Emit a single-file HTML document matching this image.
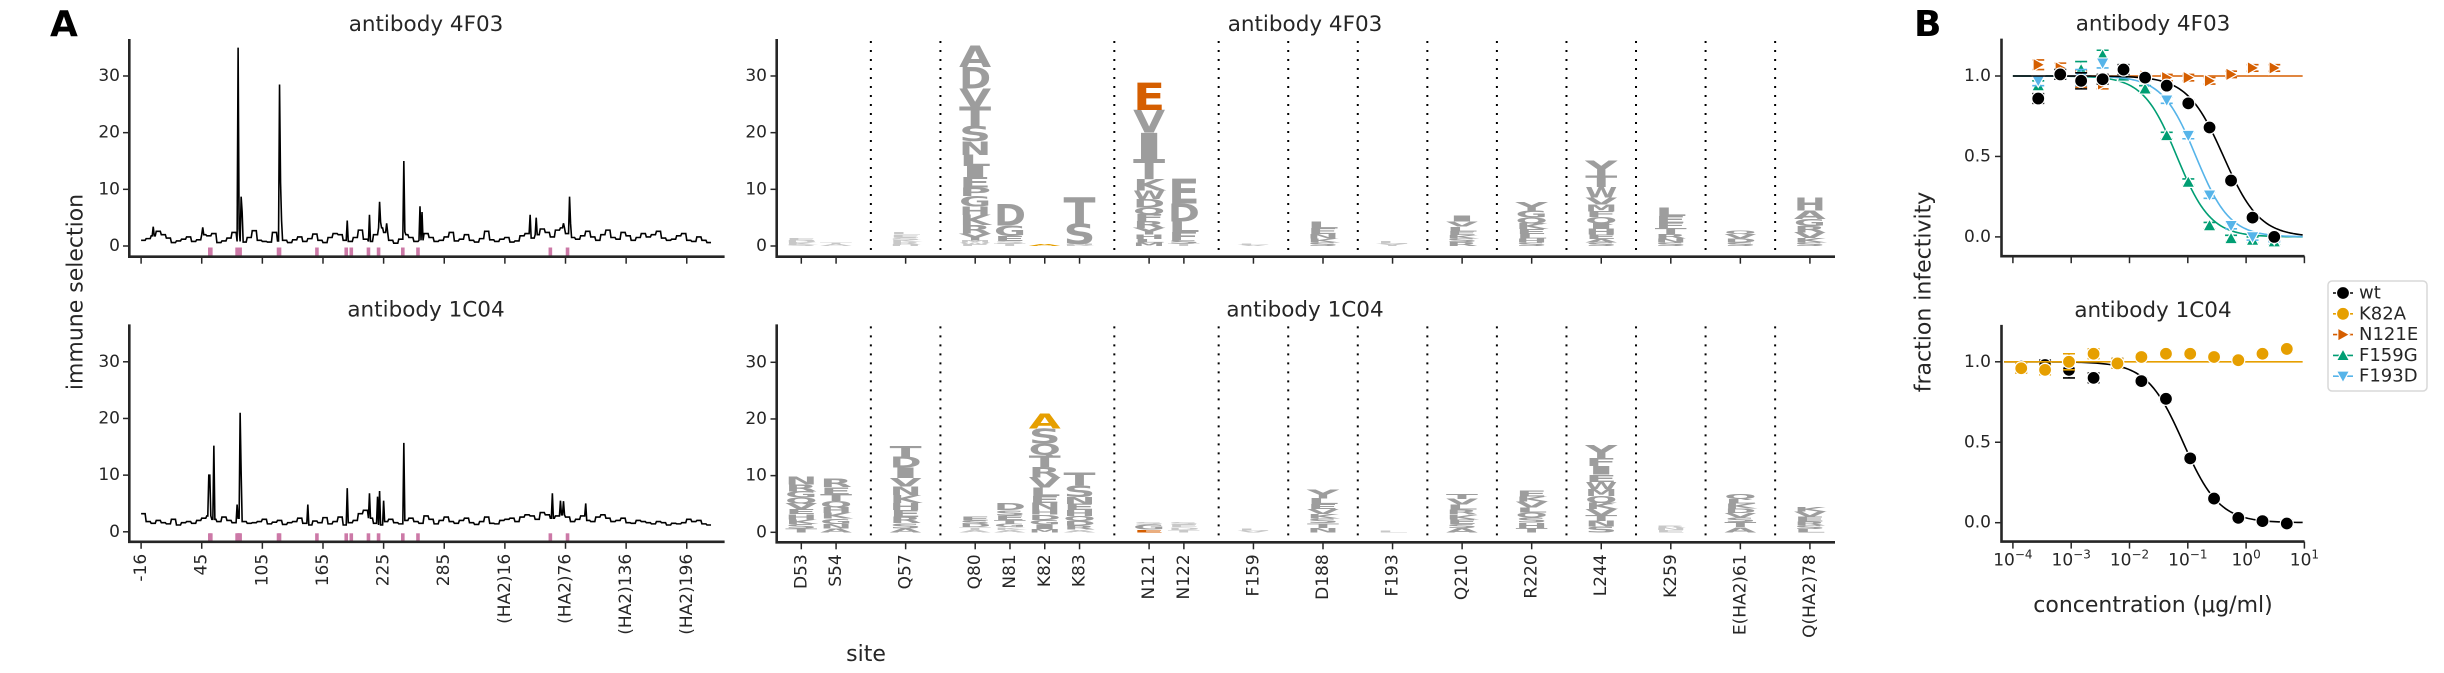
<!DOCTYPE html>
<html><head><meta charset="utf-8"><style>
html,body{margin:0;padding:0;background:#fff;}
svg{display:block;font-family:"DejaVu Sans","Liberation Sans",sans-serif;}
</style></head><body>
<svg id="fig" width="2444" height="673" viewBox="0 0 2444 673" xmlns="http://www.w3.org/2000/svg"></svg>
<script>
// ---------- Panel A line plots data ----------
const siteCount = 565;
const lineTickIdx = [0,60,120,180,240,300,360,420,480,540];
const lineTickLabels = ["-16","45","105","165","225","285","(HA2)16","(HA2)76","(HA2)136","(HA2)196"];
const yTicksA = [0,10,20,30];
const topBase = [1.0,1.3,1.8,2.6,2.0,1.4,0.6,0.9,1.2,1.6,0.8,1.1,2.0,1.8,2.2,0.6,0.9,1.4,2.4,0.8,
0.7,1.5,2.7,1.0,0.8,0.7,2.4,0.9,1.0,0.6,1.1,1.6,0.8,1.3,2.1,1.0,0.6,1.5,2.2,2.0,
1.0,0.8,1.5,2.8,1.2,0.8,2.0,3.2,2.4,1.0,0.5,1.2,2.0,1.5,0.8,1.0,2.2,1.5,0.8,1.0,
1.6,2.4,0.9,1.2,2.0,1.0,0.7,1.3,2.6,1.1,0.8,1.2,1.5,0.7,0.9,1.8,2.2,1.4,2.0,3.0,
2.4,1.6,2.8,3.2,2.2,1.5,1.2,1.8,2.6,1.6,1.0,2.0,2.8,1.5,1.2,2.4,1.8,1.0,1.5,2.2,
1.6,2.0,2.6,1.4,1.0,1.2,1.8,2.2,1.0,0.8,1.6,1.0,0.6];
const topSpikeIdx = [12,61,96,97,99,100,137,138,139,204,226,236,237,243,260,261,276,278,385,391,418,424,425];
const topSpikeVal = [3.4,3.3,35,3,8.7,6,28.5,11.2,4.5,4.5,5.5,7.8,4.2,4,15,2.5,7,6,5.5,5,4,8.7,4];
const botBase = [3.2,1.8,1.5,2.0,1.6,1.4,2.2,1.2,1.6,1.8,1.5,2.0,2.4,2.8,2.2,1.8,2.6,2.0,1.6,2.4,
1.8,1.5,1.6,1.8,2.2,1.4,1.7,2.0,1.3,1.6,1.8,2.4,1.5,1.2,1.9,1.6,2.5,1.4,1.8,2.6,
1.2,1.6,2.0,3.2,3.8,2.4,1.5,1.2,1.8,2.2,1.6,1.4,2.0,2.4,1.8,1.5,2.8,2.2,1.4,2.0,
2.6,1.8,1.5,2.0,2.4,1.6,1.3,1.8,2.6,1.5,1.4,2.0,2.2,2.4,1.8,2.6,3.0,2.8,2.2,3.4,
3.0,2.4,2.8,3.0,2.6,1.8,2.2,2.8,2.0,1.8,2.6,3.0,2.4,1.8,2.0,2.4,1.6,1.5,2.0,1.8,
1.6,1.4,1.8,1.6,1.2,1.5,1.4,1.6,2.2,1.8,2.0,1.4,1.2];
const botSpikeIdx = [67,68,72,95,98,99,165,204,226,234,236,240,260,407,415,418,440];
const botSpikeVal = [10,10,15.2,4.8,21,10.5,4.8,7.7,6.8,6.2,7.2,5.5,15.7,6.8,5.5,5.4,5];
const markedSites = [68,69,95,96,97,98,136,137,174,203,208,225,235,259,274,405,422];

// ---------- Panel A logo data ----------
const logoSiteLabels = ["D53","S54","Q57","Q80","N81","K82","K83","N121","N122","F159","D188","F193","Q210","R220","L244","K259","E(HA2)61","Q(HA2)78"];
const logoSlots = [0,1,3,5,6,7,8,10,11,13,15,17,19,21,23,25,27,29];
const logoSeparators = [2,4,9,12,14,16,18,20,22,24,26,28];
const topLetters = ["EDKS","TA","LESKRH","ADVTSNLIEPGHKRYMWF","DGEST","A","TSNR","EVITKWDQFRYHLM","EDLFST","LV","LENKS","LY","IVLEKSR","YGQKELHS","YTWVMFQIHEAS","LEFTRNS","QVDS","HAGRVKS"];
const topHeights = [[0.4,0.4,0.3,0.3],[0.3,0.3],[0.5,0.5,0.4,0.4,0.4,0.3],
[3.8,3.8,3.2,3.5,2.6,2.4,2,2,1.8,1.5,1.8,1.5,1.8,1.5,1.2,0.4,0.3,0.3],
[3.8,1.8,0.9,0.5,0.4],[0.3],[4.7,3.5,0.2,0.2],
[4.8,4,4.7,3.5,2,1.5,1.5,1.2,1.2,1.2,1.2,0.8,0.6,0.6],
[4.4,3.2,1.8,1.5,0.6,0.4],[0.2,0.2],[1.2,1.0,0.8,0.7,0.6],[0.4,0.4],
[1.0,0.9,0.8,0.7,0.6,0.6,0.7],[1.6,1.2,1.0,1.0,0.9,0.8,0.7,0.6],
[2.6,2.0,1.8,1.3,1.2,1.0,1.1,1.0,1.0,0.8,0.6,0.6],[1.5,1.2,1.0,1.0,0.8,0.7,0.6],
[0.6,0.8,0.7,0.6],[2.3,1.5,1.3,1.1,1.0,0.8,0.6]];
const topHighlightSite = [5,7];
const topHighlightPos = [0,0];
const topHighlightColor = ["#E69F00","#D55E00"];
const botLetters = ["NRGQVEHKST","RETQHKGNA","TDIVNKHERSA","ESDTA","DSETGKA","ASQTRVLENHDGIM","TSNEHQDRA","SGE","SEDT","LV","YLEVKSTN","L","TVLRKESA","EKVLQSHT","YFIEWMQKVTNS","RNE","QLKDVSTA","KVERSL"];
const botHeights = [[1.35,1.2,1.1,1.0,1.0,0.9,0.9,0.8,0.8,0.7],[1.5,1.3,1.2,1.1,1.0,1.0,0.9,0.8,0.7],
[1.9,1.9,1.8,1.5,1.5,1.4,1.3,1.2,1.1,0.9,0.7],[0.7,0.6,0.6,0.5,0.4],[1.2,0.9,0.8,0.7,0.6,0.5,0.4],
[2.6,2.6,2.1,2.1,1.8,1.8,1.5,1.2,1.2,0.9,0.9,0.8,0.8,0.6],[2.3,2.1,1.2,1.1,1.0,0.9,0.8,0.7,0.5],
[0.5,0.9,0.5],[0.5,0.5,0.5,0.4],[0.35,0.35],[1.6,1.0,0.9,0.9,0.8,0.8,0.8,0.8],[0.3],
[0.9,1.0,0.9,0.9,0.8,0.8,0.7,0.8],[1.0,0.9,1.0,0.9,0.9,0.9,0.9,0.8],
[2.3,1.4,1.5,1.3,1.3,1.2,1.2,1.1,1.1,1.0,1.0,1.0],[0.4,0.4,0.4],
[0.9,0.8,0.9,0.8,0.8,0.8,0.9,0.9],[0.8,0.9,0.9,0.7,0.6,0.6]];
const botHighlightSite = [5,7];
const botHighlightPos = [0,2];
const botHighlightColor = ["#E69F00","#D55E00"];

// ---------- Panel B data ----------
const concTop = [2.72e-4,6.49e-4,1.48e-3,3.46e-3,7.89e-3,1.85e-2,4.35e-2,0.102,0.236,0.552,1.29,3.04];
const concBot = [1.39e-4,3.56e-4,9.16e-4,2.42e-3,6.21e-3,1.6e-2,4.22e-2,0.11,0.282,0.735,1.91,4.99];
const wtTop = [0.86,1.01,0.97,0.98,1.04,0.99,0.94,0.83,0.68,0.35,0.12,0.0];
const n121eTop = [1.07,1.05,0.98,0.95,1.01,1.0,0.99,0.99,0.97,1.01,1.05,1.05];
const f159gTop = [0.94,1.01,1.04,1.13,1.0,0.92,0.63,0.34,0.07,-0.01,-0.02,-0.03];
const f193dTop = [0.97,1.01,0.99,1.08,1.04,0.99,0.85,0.63,0.26,0.07,0.0,-0.01];
const wtBot = [0.97,0.98,0.95,0.90,0.99,0.88,0.77,0.40,0.15,0.03,0.01,-0.005];
const k82aBot = [0.96,0.95,1.0,1.05,0.99,1.03,1.05,1.05,1.03,1.01,1.05,1.08];
const errSmall = [0.03,0.03,0.05,0.03,0.03,0.02,0.02,0.02,0.02,0.02,0.02,0.02];
const ic50Top = [0.41,0.138,0.065];
const hillTop = [1.4,1.5,1.5];
const ic50Bot = [0.083];
const hillBot = [1.4];
const bTickExp = [-4,-3,-2,-1,0,1];
const bTickLabels = ["\u22124","\u22123","\u22122","\u22121","0","1"];
const bYTicks = [0,0.5,1.0];
const bYLabels = ["0.0","0.5","1.0"];

const NS = 'http://www.w3.org/2000/svg';
const svg = document.getElementById('fig');
const INK = '#262626';
function mk(tag, attrs, parent) {
  const e = document.createElementNS(NS, tag);
  for (const k in attrs) e.setAttribute(k, attrs[k]);
  (parent || svg).appendChild(e);
  return e;
}
function txt(x, y, s, attrs, parent) {
  const e = mk('text', Object.assign({x: x, y: y, fill: INK}, attrs), parent);
  e.textContent = s;
  return e;
}

// ---------- Static labels ----------
let t;
t = txt(50, 36, 'A', {'font-size': 36, 'font-weight': 'bold', fill: '#000'});


t = txt(1914, 36, 'B', {'font-size': 36, 'font-weight': 'bold', fill: '#000'});


t = txt(76, 292, 'immune selection', {'font-size': 22, 'text-anchor': 'middle', 'dominant-baseline': 'central', transform: 'rotate(-90 76 292)'});


t = txt(866, 661, 'site', {'font-size': 22, 'text-anchor': 'middle'});


t = txt(1924, 292, 'fraction infectivity', {'font-size': 22, 'text-anchor': 'middle', 'dominant-baseline': 'central', transform: 'rotate(-90 1924 292)'});


t = txt(2153, 612, 'concentration (\u03bcg/ml)', {'font-size': 22, 'text-anchor': 'middle'});



// ---------- Line plots ----------
const xL = i => 141.1 + i * 1.0105;
function drawLinePlot(name, title, base, spikeIdx, spikeVal, y0, spineY, topY, showLabels) {
  const g = mk('g', {});
  
  
  const yv = v => y0 - v * 5.667;
  const tt = txt(426, topY - 8, title, {'font-size': 21.5, 'text-anchor': 'middle'}, g);
  
  
  markedSites.forEach(i => {
    const r = mk('rect', {x: xL(i) - 1.8, y: y0 + 1.5, width: 3.6, height: spineY - y0 - 2.5, fill: '#cc79a7'}, g);
    
    
  });
  const vals = [];
  for (let i = 0; i < siteCount; i++) vals.push(base[Math.min(base.length - 1, Math.floor(i / 5))]);
  spikeIdx.forEach((ix, k) => { vals[ix] = spikeVal[k]; });
  let d = '';
  vals.forEach((v, i) => { d += (i ? 'L' : 'M') + xL(i).toFixed(2) + ' ' + yv(v).toFixed(2); });
  const p = mk('path', {d: d, fill: 'none', stroke: '#000', 'stroke-width': 1.6}, g);
  
  
  const ax = mk('path', {d: `M129.3 ${topY} L129.3 ${spineY} L724.6 ${spineY}`, fill: 'none', stroke: INK, 'stroke-width': 2.6}, g);
  
  
  yTicksA.forEach(v => {
    const tk = mk('line', {x1: 123, x2: 129.3, y1: yv(v), y2: yv(v), stroke: INK, 'stroke-width': 1.5}, g);
    
    
    const tl = txt(120, yv(v), String(v), {'font-size': 17, 'text-anchor': 'end', 'dominant-baseline': 'central'}, g);
    
    
  });
  lineTickIdx.forEach((ix, k) => {
    const x = xL(ix);
    const tk = mk('line', {x1: x, x2: x, y1: spineY, y2: spineY + 7, stroke: INK, 'stroke-width': 1.5}, g);
    
    
    if (showLabels) {
      const tl = txt(x, spineY + 12, lineTickLabels[k], {'font-size': 17, 'text-anchor': 'end', 'dominant-baseline': 'central', transform: `rotate(-90 ${x} ${spineY + 12})`}, g);
      
      
    }
  });
}
drawLinePlot('line-plot-4f03', 'antibody 4F03', topBase, topSpikeIdx, topSpikeVal, 246, 256.7, 39, false);
drawLinePlot('line-plot-1c04', 'antibody 1C04', botBase, botSpikeIdx, botSpikeVal, 531.8, 541.8, 324.4, true);

// ---------- Logo plots ----------
const xS = s => 801.3 + s * 34.78;
function drawLogo(name, title, letters, heights, hlSite, hlPos, hlColor, y0, spineY, topY, showLabels) {
  const g = mk('g', {});
  
  
  const yv = v => y0 - v * 5.667;
  const tt = txt(1305, topY - 8, title, {'font-size': 21.5, 'text-anchor': 'middle'}, g);
  
  
  logoSeparators.forEach(s => {
    const ln = mk('line', {x1: xS(s), x2: xS(s), y1: topY + 2, y2: spineY, stroke: '#000', 'stroke-width': 2, 'stroke-dasharray': '2 7'}, g);
    
    
  });
  logoSlots.forEach((s, k) => {
    const xc = xS(s);
    const str = letters[k];
    const hs = heights[k];
    let cum = 0;
    for (let j = str.length - 1; j >= 0; j--) {
      const h = hs[j];
      let col = h < 0.6 ? '#c8c8c8' : '#9d9d9d';
      hlSite.forEach((hsIdx, q) => { if (hsIdx === k && hlPos[q] === j) col = hlColor[q]; });
      const yb = yv(cum);
      const px = h * 5.667;
      const fs = Math.max(px / 0.729, 0.5);
      const le = txt(xc - 16, yb, str[j], {'font-size': fs.toFixed(2), 'font-weight': 'bold', fill: col, textLength: 32, lengthAdjust: 'spacingAndGlyphs'}, g);
      
      
      cum += h;
    }
    const tk = mk('line', {x1: xc, x2: xc, y1: spineY, y2: spineY + 7, stroke: INK, 'stroke-width': 1.5}, g);
    
    
    if (showLabels) {
      const tl = txt(xc, spineY + 12, logoSiteLabels[k], {'font-size': 17, 'text-anchor': 'end', 'dominant-baseline': 'central', transform: `rotate(-90 ${xc} ${spineY + 12})`}, g);
      
      
    }
  });
  const ax = mk('path', {d: `M776.7 ${topY} L776.7 ${spineY} L1835 ${spineY}`, fill: 'none', stroke: INK, 'stroke-width': 2.6}, g);
  
  
  yTicksA.forEach(v => {
    const tk = mk('line', {x1: 770.5, x2: 776.7, y1: yv(v), y2: yv(v), stroke: INK, 'stroke-width': 1.5}, g);
    
    
    const tl = txt(767, yv(v), String(v), {'font-size': 17, 'text-anchor': 'end', 'dominant-baseline': 'central'}, g);
    
    
  });
}
drawLogo('logo-plot-4f03', 'antibody 4F03', topLetters, topHeights, topHighlightSite, topHighlightPos, topHighlightColor, 246, 256.7, 39, false);
drawLogo('logo-plot-1c04', 'antibody 1C04', botLetters, botHeights, botHighlightSite, botHighlightPos, botHighlightColor, 532.3, 542.3, 324.4, true);

// ---------- Panel B ----------
const xB = c => 2012.9 + (Math.log10(c) + 4) * 58.3;
function marker(g, shape, x, y, color) {
  const r = 6.5;
  let e;
  if (shape === 'circle') e = mk('circle', {cx: x, cy: y, r: r}, g);
  else {
    let pts;
    if (shape === 'up') pts = [[x, y - r], [x + r, y + r * 0.8], [x - r, y + r * 0.8]];
    else if (shape === 'down') pts = [[x, y + r], [x + r, y - r * 0.8], [x - r, y - r * 0.8]];
    else pts = [[x + r, y], [x - r * 0.8, y - r], [x - r * 0.8, y + r]];
    e = mk('polygon', {points: pts.map(p => p.join(',')).join(' ')}, g);
  }
  e.setAttribute('fill', color);
  e.setAttribute('stroke', '#fff');
  e.setAttribute('stroke-width', 1.2);
  
  
  return e;
}
function drawB(name, title, y0, spineY, topY, series, showLabels) {
  const g = mk('g', {});
  
  
  const yv = v => y0 - v * 160.9;
  const tt = txt(2153, topY - 8, title, {'font-size': 21.5, 'text-anchor': 'middle'}, g);
  
  
  series.forEach(s => {
    const sg = mk('g', {}, g);
    
    
    let d = '';
    for (let k = 0; k <= 120; k++) {
      const lc = s.x0 + (1 - s.x0) * 0 + k * (0.97 - s.x0) / 120;
      const c = Math.pow(10, lc);
      const f = s.ic50 ? 1 / (1 + Math.pow(c / s.ic50, s.hill)) : 1;
      d += (k ? 'L' : 'M') + xB(c).toFixed(2) + ' ' + yv(f).toFixed(2);
    }
    const cv = mk('path', {d: d, fill: 'none', stroke: s.color, 'stroke-width': 1.6}, sg);
    
    
    s.conc.forEach((c, i) => {
      const x = xB(c), y = yv(s.vals[i]), e = errSmall[i] * 160.9;
      const eb = mk('path', {d: `M${x} ${y - e}L${x} ${y + e}M${x - 6} ${y - e}L${x + 6} ${y - e}M${x - 6} ${y + e}L${x + 6} ${y + e}`, stroke: s.color, 'stroke-width': 1.6, fill: 'none'}, sg);
      
      
      marker(sg, s.shape, x, y, s.color);
    });
  });
  const ax = mk('path', {d: `M2001.5 ${topY} L2001.5 ${spineY} L2304.5 ${spineY}`, fill: 'none', stroke: INK, 'stroke-width': 2.6}, g);
  
  
  bYTicks.forEach((v, k) => {
    const tk = mk('line', {x1: 1995, x2: 2001.5, y1: yv(v), y2: yv(v), stroke: INK, 'stroke-width': 1.5}, g);
    
    
    const tl = txt(1991, yv(v), bYLabels[k], {'font-size': 17, 'text-anchor': 'end', 'dominant-baseline': 'central'}, g);
    
    
  });
  bTickExp.forEach((ex, k) => {
    const x = xB(Math.pow(10, ex));
    const tk = mk('line', {x1: x, x2: x, y1: spineY, y2: spineY + 7, stroke: INK, 'stroke-width': 1.5}, g);
    
    
    if (showLabels) {
      const tl = mk('text', {x: x, y: spineY + 24, 'font-size': 17, 'text-anchor': 'middle', fill: INK}, g);
      
      
      const a = mk('tspan', {}, tl); a.textContent = '10';
      const b = mk('tspan', {dy: -7, 'font-size': 12}, tl); b.textContent = bTickLabels[k];
    }
  });
}
drawB('neut-plot-4f03', 'antibody 4F03', 236.9, 256.2, 38.6, [
  {label: 'N121E', color: '#D55E00', shape: 'right', conc: concTop, vals: n121eTop, ic50: 0, hill: 1, x0: -4},
  {label: 'F159G', color: '#009E73', shape: 'up', conc: concTop, vals: f159gTop, ic50: ic50Top[2], hill: hillTop[2], x0: -4},
  {label: 'F193D', color: '#56B4E9', shape: 'down', conc: concTop, vals: f193dTop, ic50: ic50Top[1], hill: hillTop[1], x0: -4},
  {label: 'wt', color: '#000000', shape: 'circle', conc: concTop, vals: wtTop, ic50: ic50Top[0], hill: hillTop[0], x0: -4}
], false);
drawB('neut-plot-1c04', 'antibody 1C04', 522.7, 541.6, 324.9, [
  {label: 'wt', color: '#000000', shape: 'circle', conc: concBot, vals: wtBot, ic50: ic50Bot[0], hill: hillBot[0], x0: -4.15},
  {label: 'K82A', color: '#E69F00', shape: 'circle', conc: concBot, vals: k82aBot, ic50: 0, hill: 1, x0: -4.15}
], true);

// ---------- Legend ----------
const legendLabels = ['wt', 'K82A', 'N121E', 'F159G', 'F193D'];
const legendColors = ['#000000', '#E69F00', '#D55E00', '#009E73', '#56B4E9'];
const legendShapes = ['circle', 'circle', 'right', 'up', 'down'];
const lg = mk('g', {});


const lbox = mk('rect', {x: 2328, y: 281, width: 99, height: 110, rx: 4, fill: '#fff', stroke: '#d8d8d8', 'stroke-width': 1.5}, lg);


legendLabels.forEach((lab, k) => {
  const y = 293 + k * 20.8;
  const le = mk('g', {}, lg);
  
  
  mk('line', {x1: 2333, x2: 2353, y1: y, y2: y, stroke: legendColors[k], 'stroke-width': 1.6}, le);
  marker(le, legendShapes[k], 2343, y, legendColors[k]);
  const tl = txt(2359, y, lab, {'font-size': 18, 'dominant-baseline': 'central'}, le);
  
  
});
</script>
</body></html>
